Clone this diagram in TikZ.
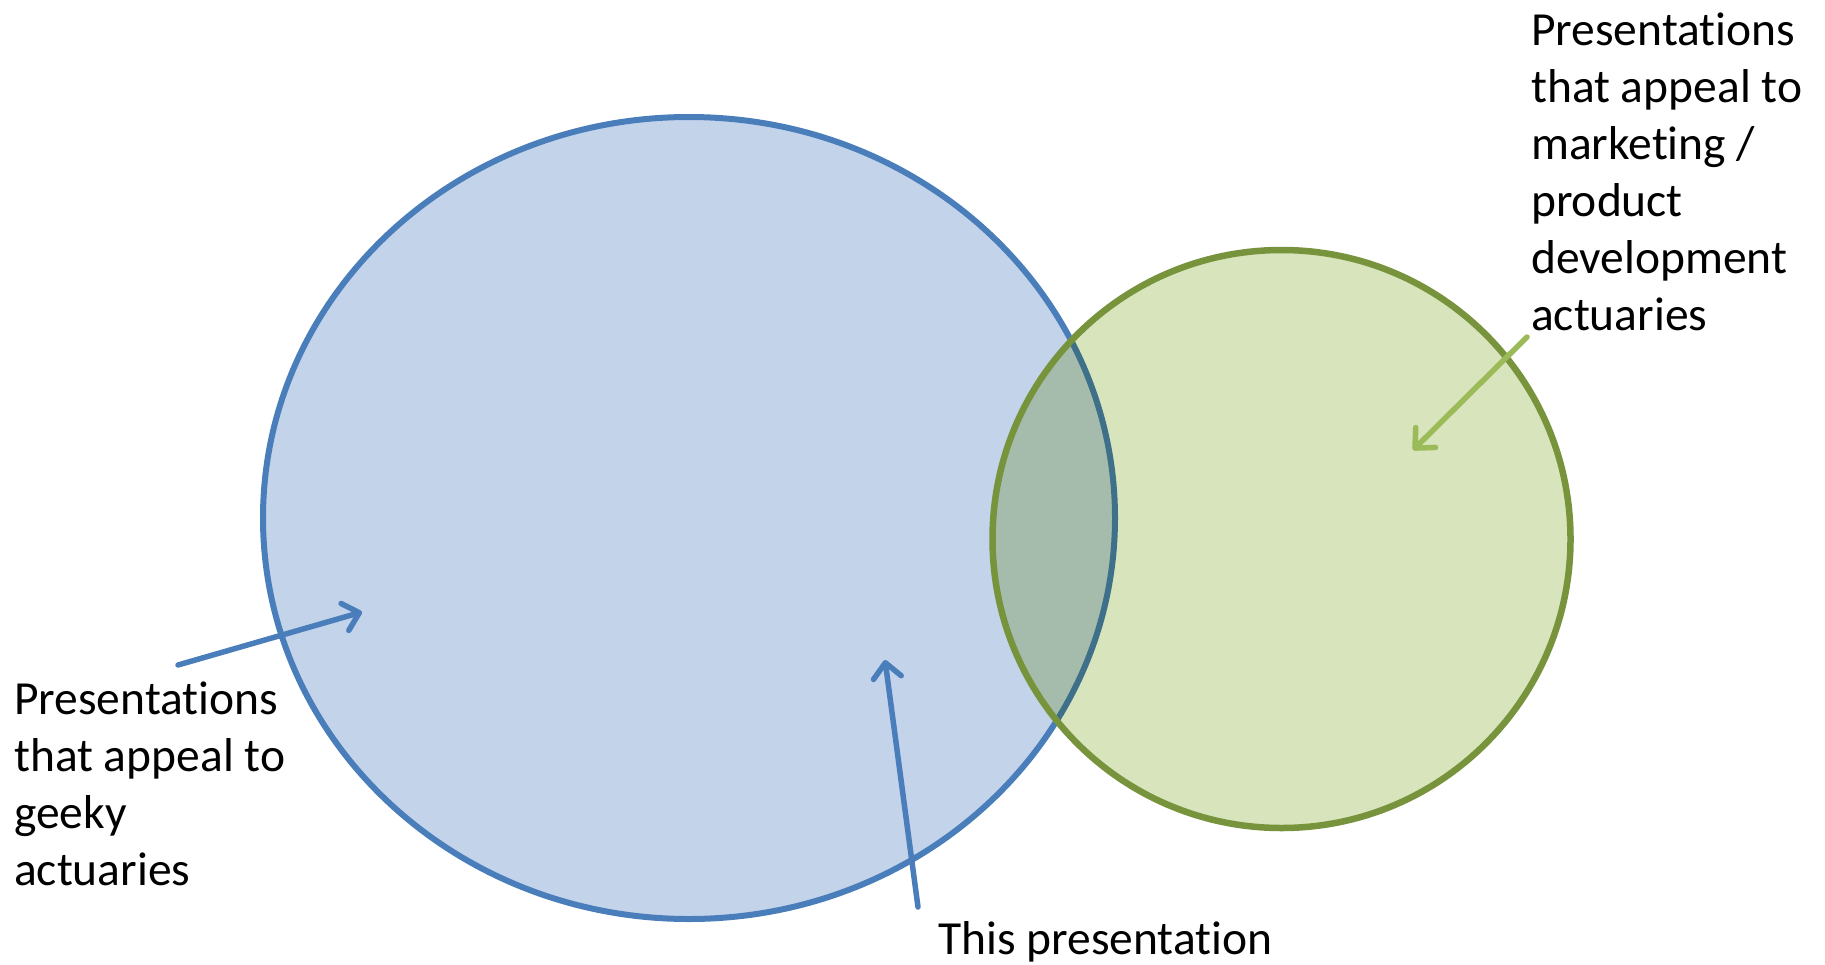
\documentclass[tikz,border=0pt]{standalone}
\usepackage{fontspec}
\setmainfont{Carlito}[Ligatures=NoCommon]
\usetikzlibrary{arrows.meta}
\definecolor{blueline}{HTML}{4A7EBB}
\definecolor{bluefill}{HTML}{C3D3EA}
\definecolor{greenline}{HTML}{77933C}
\definecolor{greenfill}{HTML}{D8E4BC}
\definecolor{greenarrow}{HTML}{9BBB59}
\tikzset{
  lbl/.style={anchor=north west, inner sep=0pt, align=left, font=\fontsize{47.5}{57}\selectfont},
  pointer/.style={line width=5.5pt, line cap=round, -{Straight Barb[length=15pt,width=28pt,line width=5.5pt,round]}},
}
\begin{document}
\begin{tikzpicture}[x=1pt,y=-1pt]
\useasboundingbox (0,0) rectangle (1825,964);
% blue set
\fill[bluefill] (689,518) ellipse [x radius=426pt, y radius=401pt];
\draw[blueline, line width=6pt] (689,518) ellipse [x radius=426pt, y radius=401pt];
% green set (multiply over blue)
\begin{scope}[blend mode=multiply]
\fill[greenfill] (1281.5,539) circle [radius=289pt];
\end{scope}
\draw[greenline, line width=6.5pt] (1281.5,539) circle [radius=289pt];
% labels
\node[lbl] (geeky) at (14,681.5) {Presentations\\that appeal to\\geeky\\actuaries};
\node[lbl] (mkt) at (1531,12.5) {Presentations\\that appeal to\\marketing /\\product\\development\\actuaries};
\node[lbl] (this) at (938,921.5) {This presentation};
% pointers
\coordinate (g1) at (178,665);
\coordinate (g2) at (362,612);
\coordinate (t1) at (918,907);
\coordinate (t2) at (885,660);
\coordinate (m1) at (1527,337);
\coordinate (m2) at (1413,450);
\draw[pointer, blueline] (g1) -- (g2);
\draw[pointer, blueline] (t1) -- (t2);
\draw[pointer, greenarrow] (m1) -- (m2);
\end{tikzpicture}
\end{document}
